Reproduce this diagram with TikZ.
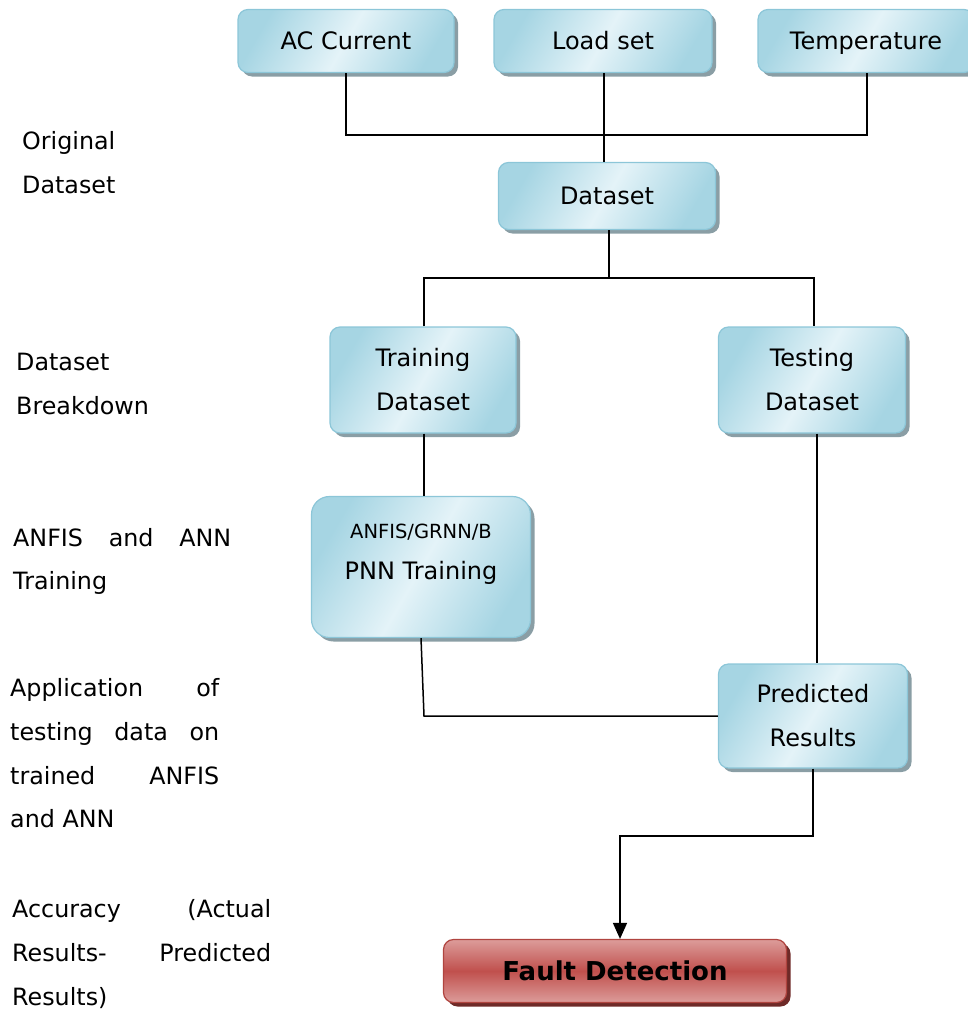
\documentclass[tikz,border=0pt]{standalone}
\usepackage{fontspec}
\setmainfont{DejaVu Sans}
\usetikzlibrary{shadows,arrows.meta}
\definecolor{boxlight}{HTML}{E4F3F8}
\definecolor{boxdark}{HTML}{A6D5E3}
\definecolor{boxedge}{HTML}{8CC6D8}
\definecolor{boxshadow}{HTML}{8A9EA5}
\definecolor{redlight}{HTML}{DC9C9A}
\definecolor{reddark}{HTML}{C0504D}
\definecolor{rededge}{HTML}{B0443F}
\definecolor{redshadow}{HTML}{6E2A28}
\tikzset{
  bluebox/.style={draw=boxedge, line width=1.2pt, rounded corners=10pt,
    left color=boxdark, right color=boxdark, middle color=boxlight, shading angle=60,
    drop shadow={shadow xshift=4pt, shadow yshift=-4pt, fill=boxshadow, opacity=1},
    align=center, inner sep=0pt,
    font=\fontsize{24}{44}\selectfont},
  oneline/.style={text height=17.5pt, text depth=0pt},
  redbox/.style={draw=rededge, line width=1.2pt, rounded corners=10pt,
    top color=redlight, bottom color=redlight, middle color=reddark,
    drop shadow={shadow xshift=4pt, shadow yshift=-4pt, fill=redshadow, opacity=1},
    inner sep=0pt, font=\fontsize{26}{30}\selectfont\bfseries},
  boxlabel/.style={align=center, inner sep=0pt},
  link/.style={line width=1.5pt, draw=black},
  sidetext/.style={anchor=base west, inner sep=0pt, font=\fontsize{23.8}{30}\selectfont}
}
\begin{document}
\begin{tikzpicture}[x=1pt,y=-1pt]
\useasboundingbox (0,0) rectangle (968,1009);

% input sources
\node[bluebox, oneline, minimum width=216pt, minimum height=63pt] (ac)   at (346,41) {AC Current};
\node[bluebox, oneline, minimum width=218pt, minimum height=63pt] (load) at (603,41) {Load set};
\node[bluebox, oneline, minimum width=216pt, minimum height=63pt] (temp) at (866,41) {Temperature};

% merged data and its split
\node[bluebox, oneline, minimum width=217pt, minimum height=67pt] (data)  at (607,196) {Dataset};
\node[bluebox, minimum width=186pt, minimum height=106pt] (train) at (423,380) {Training\\Dataset};
\node[bluebox, minimum width=187pt, minimum height=106pt] (test)  at (812,380) {Testing\\Dataset};

% model training and prediction
\node[bluebox, minimum width=219pt, minimum height=141pt, rounded corners=18pt] (anfis) at (421,567) {};
\node[boxlabel, font=\fontsize{24}{41}\selectfont] (anfistext) at (421,554.5)
  {{\fontsize{19.5}{41}\selectfont ANFIS/GRNN/B}\\PNN Training};
\node[bluebox, minimum width=189pt, minimum height=104pt] (pred) at (813,716) {Predicted\\Results};

% outcome
\node[redbox, minimum width=343pt, minimum height=63pt] (fault) at (615,971) {Fault Detection};

% junction points
\coordinate (j1) at (604,135);
\coordinate (j2) at (609,278);
\coordinate (j3) at (620,836);

% connectors
\draw[link] (ac.south) |- (j1) -| ([xshift=1pt]temp.south);
\draw[link] ([xshift=1pt]load.south) -- ([xshift=1pt]load.south |- data.north);
\draw[link] (data.south -| j2) -- (j2);
\draw[link] ([xshift=1pt]train.north) |- (j2) -| ([xshift=2pt]test.north);
\draw[link] ([xshift=1pt]train.south) -- ([xshift=1pt]train.south |- anfis.north);
\draw[link] ([xshift=5pt]test.south) -- ([xshift=5pt]test.south |- pred.north);
\draw[link] (anfis.south) -- ([xshift=3pt]anfis.south |- pred.west) -- (pred.west);
\draw[link, -{Triangle[length=16pt,width=14pt]}] (pred.south) |- (j3) -- (j3 |- fault.north);

% stage descriptions
\node[sidetext] (o1) at (22,149) {Original};
\node[sidetext] (o2) at (22,193) {Dataset};
\node[sidetext] (b1) at (16,370) {Dataset};
\node[sidetext] (b2) at (16,414) {Breakdown};
\node[sidetext] (t1) at (13,546) {\makebox[218pt][s]{ANFIS and ANN}};
\node[sidetext] (t2) at (13,589) {Training};
\node[sidetext] (a1) at (10,696) {\makebox[209pt][s]{Application of}};
\node[sidetext] (a2) at (10,740) {\makebox[209pt][s]{testing data on}};
\node[sidetext] (a3) at (10,784) {\makebox[209pt][s]{trained ANFIS}};
\node[sidetext] (a4) at (10,827) {and ANN};
\node[sidetext] (c1) at (12,917) {\makebox[259pt][s]{Accuracy (Actual}};
\node[sidetext] (c2) at (12,961) {\makebox[259pt][s]{Results- Predicted}};
\node[sidetext] (c3) at (12,1005) {Results)};
\end{tikzpicture}
\end{document}
